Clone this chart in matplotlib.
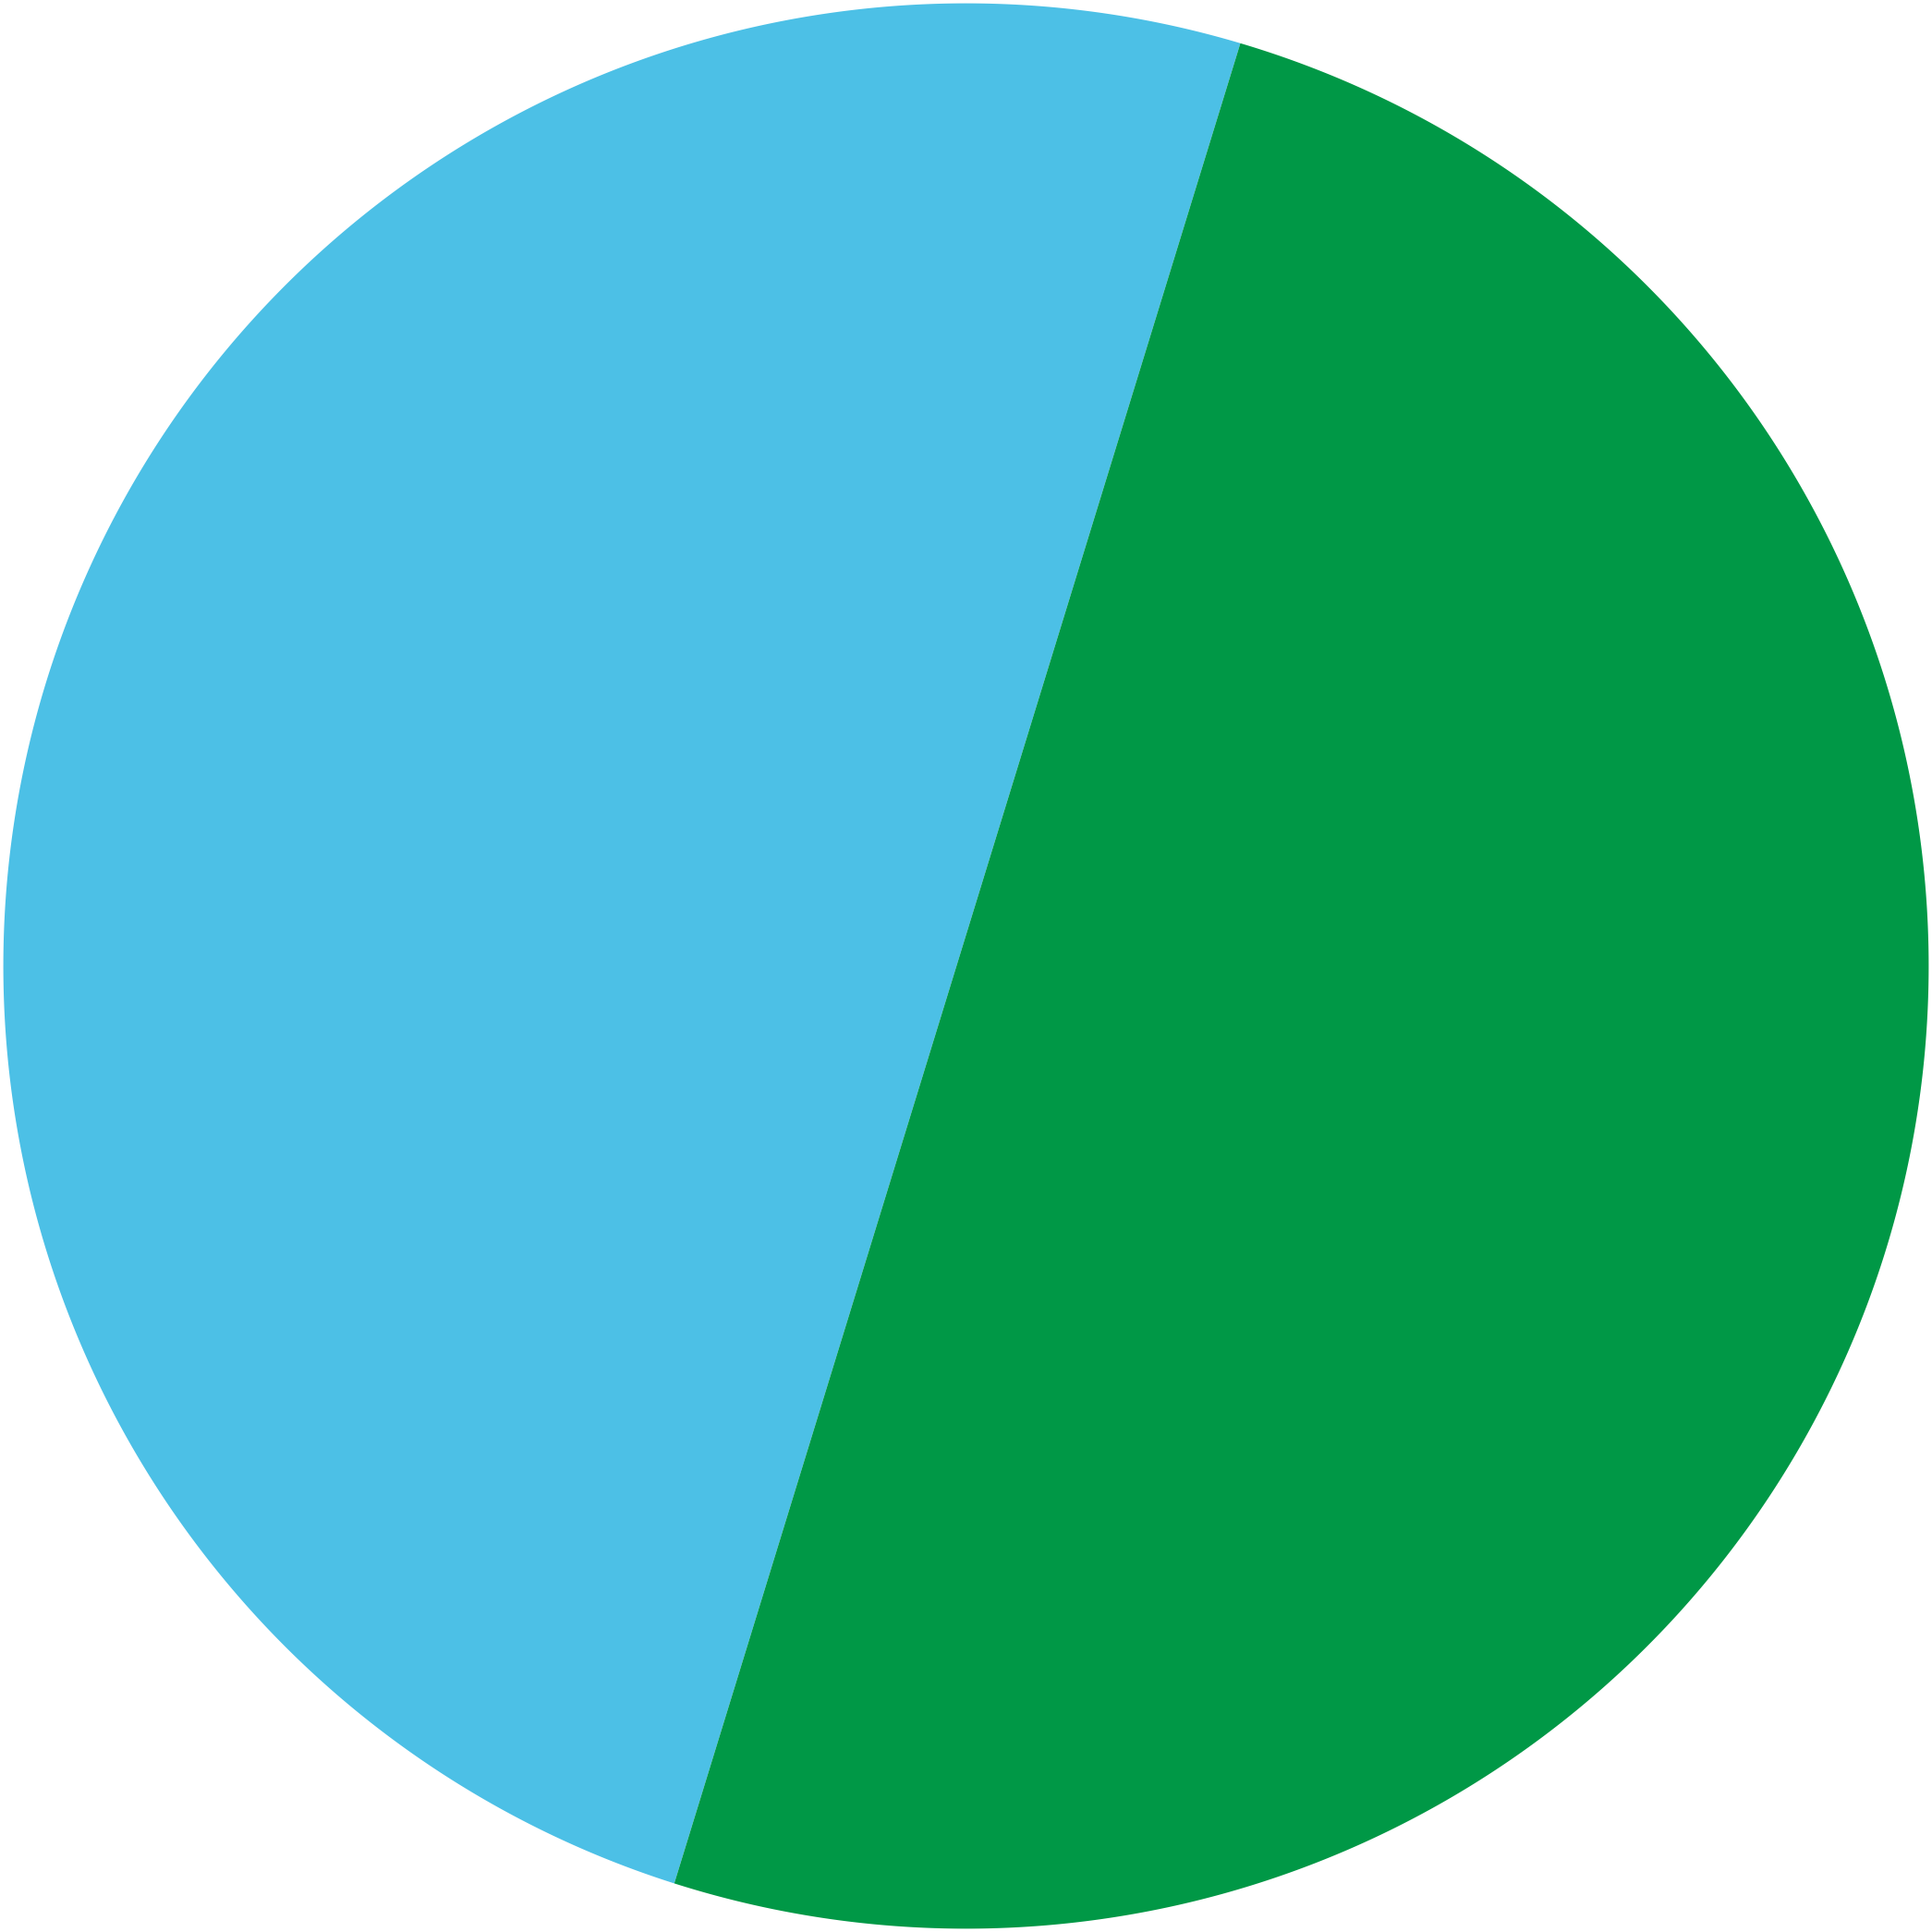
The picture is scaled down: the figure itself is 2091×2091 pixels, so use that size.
import numpy as np
import matplotlib
matplotlib.use("Agg")
import matplotlib.pyplot as plt

# data: two parts of a circle, split by one straight chord
labels = ["Blue", "Green"]
values = [49.4, 50.6]
colors = ["#4CC0E6", "#009846"]

MID_ANGLE = 162.9  # direction (deg) of the centre of the blue part


def segment_half_angle(frac):
    # area of a circular segment: (t - sin t) / (2 pi), solve for t
    lo, hi = 0.0, 2 * np.pi
    target = 2 * np.pi * frac
    for _ in range(80):
        mid = (lo + hi) / 2
        if mid - np.sin(mid) < target:
            lo = mid
        else:
            hi = mid
    return np.degrees((lo + hi) / 2) / 2


fig = plt.figure(figsize=(20.91, 20.91), dpi=100)
ax = fig.add_axes([0, 0, 1, 1])

half = segment_half_angle(values[0] / sum(values))
spans = [(MID_ANGLE - half, MID_ANGLE + half),
         (MID_ANGLE + half, MID_ANGLE - half + 360)]
for (a0, a1), col in zip(spans, colors):
    t = np.radians(np.linspace(a0, a1, 720))
    ax.fill(np.cos(t), np.sin(t), color=col, linewidth=0)

lim = 1045.3 / 1041.7
ax.set_xlim(-lim, lim)
ax.set_ylim(-lim, lim)
ax.set_aspect("equal")
ax.axis("off")

plt.savefig("out.png", dpi=100)
plt.close()
